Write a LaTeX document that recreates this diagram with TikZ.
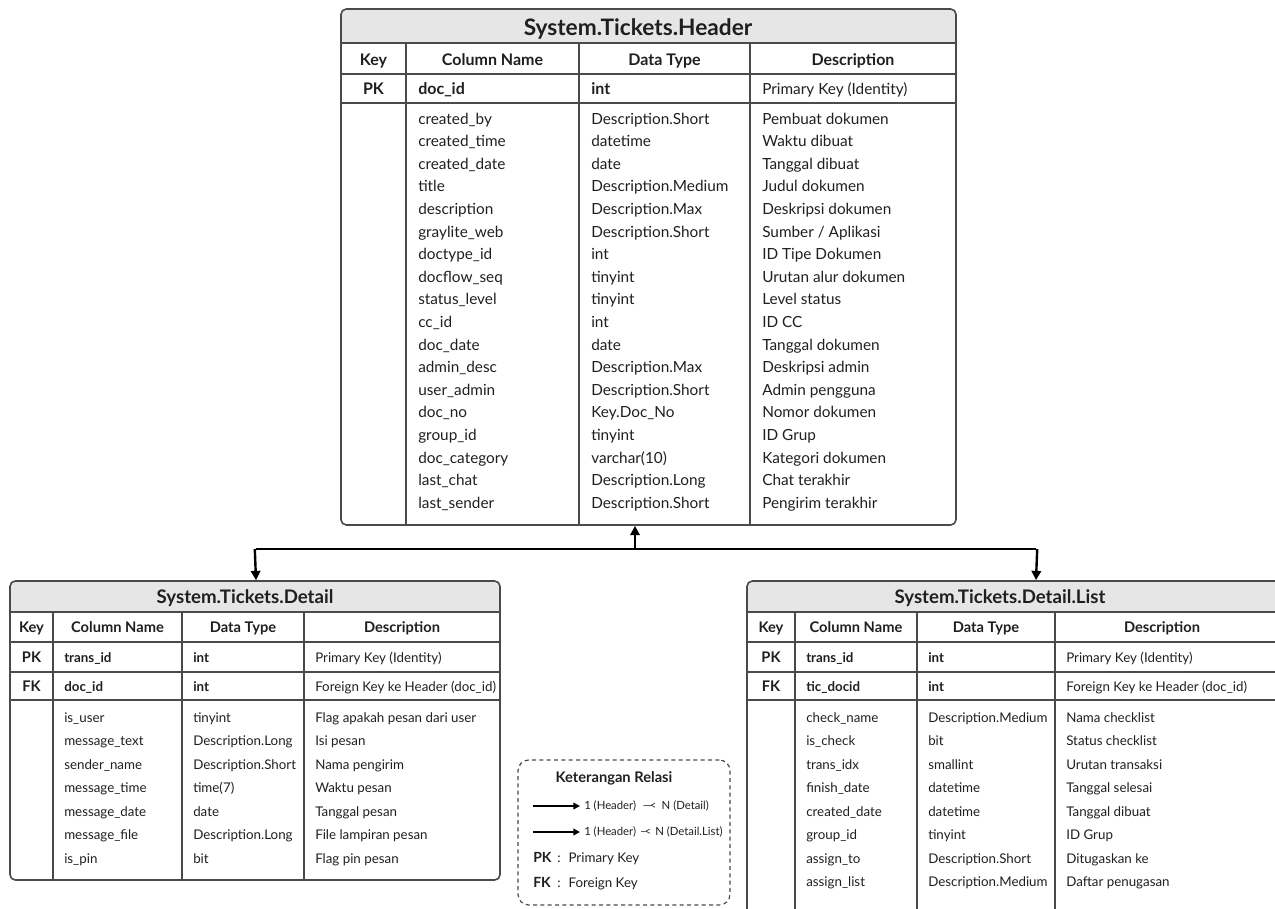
\documentclass[tikz,border=0pt]{standalone}
\usepackage{fontspec}
\setmainfont{Lato}
\usetikzlibrary{arrows.meta}
\usetikzlibrary{fit}
\usetikzlibrary{positioning}
\definecolor{inkgray}{HTML}{1F1F1F}
\definecolor{linegray}{HTML}{4A4A4A}
\definecolor{bandgray}{HTML}{E6E6E6}
\tikzset{
  tblbox/.style={draw=linegray, line width=1.2pt, rounded corners=4pt, inner sep=0pt},
  gridln/.style={linegray, line width=0.8pt},
  bigttl/.style={font=\bfseries\fontsize{17}{20}\selectfont, text=inkgray, inner sep=0pt},
  smallttl/.style={font=\bfseries\fontsize{14}{16}\selectfont, text=inkgray, inner sep=0pt},
  hcell/.style={font=\fontsize{11.5}{13}\selectfont, text=inkgray, inner sep=0pt, text height=1.5ex, text depth=0.45ex},
  hbold/.style={hcell, font=\bfseries\fontsize{12}{14}\selectfont},
  dcell/.style={font=\fontsize{10}{12}\selectfont, text=inkgray, inner sep=0pt, text height=1.5ex, text depth=0.45ex},
  dbold/.style={dcell, font=\bfseries\fontsize{10}{12}\selectfont},
  dhead/.style={dcell, font=\bfseries\fontsize{11}{13}\selectfont},
  rel/.style={draw=black, line width=1.8pt, -{Triangle[length=7pt,width=7pt]}},
  legendbox/.style={draw=linegray, line width=0.9pt, dashed, dash pattern=on 3pt off 2.5pt, rounded corners=8pt}
}
\begin{document}
\begin{tikzpicture}[x=0.75pt, y=-0.75pt]
  \useasboundingbox (0,0) rectangle (1275,908);
  \clip (0,0) rectangle (1275,908);

  % System.Tickets.Header
  \begin{scope} \clip[rounded corners=4pt] (341,9) rectangle (956,525); \fill[bandgray] (341,9) rectangle (956,43); \end{scope}
  \draw[gridln] (341,43) -- (956,43); \draw[gridln] (341,74) -- (956,74); \draw[gridln] (341,103) -- (956,103);
  \foreach \x in {406,579,750} \draw[gridln] (\x,43) -- (\x,525);
  \node[bigttl] (httl) at (638,28.5) {System.Tickets.Header};
  \node[hbold] (hk) at (373.5,61.5) {Key};
  \node[hbold] (hcn) at (492.5,61.5) {Column Name};
  \node[hbold] (hdt) at (664.5,61.5) {Data Type};
  \node[hbold] (hds) at (853,61.5) {Description};
  \node[hbold] (hpk) at (373.5,90.5) {PK};
  \node[hbold, anchor=west] (hpkc) at (418,90.5) {doc\_id};
  \node[hbold, anchor=west] (hpkt) at (591,90.5) {int};
  \node[hcell, anchor=west] (hpkd) at (762,90.5) {Primary Key (Identity)};
  \foreach \cn/\dt/\ds [count=\i from 0] in {
    created\_by/Description.Short/Pembuat dokumen,
    created\_time/datetime/Waktu dibuat,
    created\_date/date/Tanggal dibuat,
    title/Description.Medium/Judul dokumen,
    description/Description.Max/Deskripsi dokumen,
    graylite\_web/Description.Short/Sumber \slash\ Aplikasi,
    doctype\_id/int/ID Tipe Dokumen,
    docflow\_seq/tinyint/Urutan alur dokumen,
    status\_level/tinyint/Level status,
    cc\_id/int/ID CC,
    doc\_date/date/Tanggal dokumen,
    admin\_desc/Description.Max/Deskripsi admin,
    user\_admin/Description.Short/Admin pengguna,
    doc\_no/Key.Doc\_No/Nomor dokumen,
    group\_id/tinyint/ID Grup,
    doc\_category/varchar(10)/Kategori dokumen,
    last\_chat/Description.Long/Chat terakhir,
    last\_sender/Description.Short/Pengirim terakhir}{
    \node[hcell, anchor=west] (hc\i) at (418,{120.5+22.6*\i}) {\cn};
    \node[hcell, anchor=west] (ht\i) at (591,{120.5+22.6*\i}) {\dt};
    \node[hcell, anchor=west] (hd\i) at (762,{120.5+22.6*\i}) {\ds};
  }
  \node[tblbox, fit={(341,9) (956,525)}] (hdr) {};

  % System.Tickets.Detail
  \begin{scope} \clip[rounded corners=4pt] (10,581) rectangle (500,880); \fill[bandgray] (10,581) rectangle (500,612); \end{scope}
  \foreach \y in {612,642,672,700} \draw[gridln] (10,\y) -- (500,\y);
  \foreach \x in {53,182,304} \draw[gridln] (\x,612) -- (\x,880);
  \node[smallttl] (dttl) at (245,598) {System.Tickets.Detail};
  \node[dhead] (dk) at (31.5,629) {Key};
  \node[dhead] (dcn) at (117.5,629) {Column Name};
  \node[dhead] (ddt) at (243,629) {Data Type};
  \node[dhead] (dds) at (402,629) {Description};
  \node[dhead] (dpk) at (31.5,658.5) {PK};
  \node[dbold, anchor=west] (dpkc) at (64,658.5) {trans\_id};
  \node[dbold, anchor=west] (dpkt) at (193,658.5) {int};
  \node[dcell, anchor=west] (dpkd) at (315,658.5) {Primary Key (Identity)};
  \node[dhead] (dfk) at (31.5,687.5) {FK};
  \node[dbold, anchor=west] (dfkc) at (64,687.5) {doc\_id};
  \node[dbold, anchor=west] (dfkt) at (193,687.5) {int};
  \node[dcell, anchor=west] (dfkd) at (315,687.5) {Foreign Key ke Header (doc\_id)};
  \foreach \cn/\dt/\ds [count=\i from 0] in {
    is\_user/tinyint/Flag apakah pesan dari user,
    message\_text/Description.Long/Isi pesan,
    sender\_name/Description.Short/Nama pengirim,
    message\_time/time(7)/Waktu pesan,
    message\_date/date/Tanggal pesan,
    message\_file/Description.Long/File lampiran pesan,
    is\_pin/bit/Flag pin pesan}{
    \node[dcell, anchor=west] (dc\i) at (64,{718.5+23.5*\i}) {\cn};
    \node[dcell, anchor=west] (dt\i) at (193,{718.5+23.5*\i}) {\dt};
    \node[dcell, anchor=west] (dd\i) at (315,{718.5+23.5*\i}) {\ds};
  }
  \node[tblbox, fit={(10,581) (500,880)}] (det) {};

  % System.Tickets.Detail.List
  \begin{scope} \clip[rounded corners=4pt] (747,581) rectangle (1280,915); \fill[bandgray] (747,581) rectangle (1280,612); \end{scope}
  \foreach \y in {612,642,672,700} \draw[gridln] (747,\y) -- (1280,\y);
  \foreach \x in {795,917,1055} \draw[gridln] (\x,612) -- (\x,915);
  \node[smallttl] (lttl) at (1000,598) {System.Tickets.Detail.List};
  \node[dhead] (lk) at (771,629) {Key};
  \node[dhead] (lcn) at (856,629) {Column Name};
  \node[dhead] (ldt) at (986,629) {Data Type};
  \node[dhead] (lds) at (1162,629) {Description};
  \node[dhead] (lpk) at (771,658.5) {PK};
  \node[dbold, anchor=west] (lpkc) at (806,658.5) {trans\_id};
  \node[dbold, anchor=west] (lpkt) at (928,658.5) {int};
  \node[dcell, anchor=west] (lpkd) at (1066,658.5) {Primary Key (Identity)};
  \node[dhead] (lfk) at (771,687.5) {FK};
  \node[dbold, anchor=west] (lfkc) at (806,687.5) {tic\_docid};
  \node[dbold, anchor=west] (lfkt) at (928,687.5) {int};
  \node[dcell, anchor=west] (lfkd) at (1066,687.5) {Foreign Key ke Header (doc\_id)};
  \foreach \cn/\dt/\ds [count=\i from 0] in {
    check\_name/Description.Medium/Nama checklist,
    is\_check/bit/Status checklist,
    trans\_idx/smallint/Urutan transaksi,
    finish\_date/datetime/Tanggal selesai,
    created\_date/datetime/Tanggal dibuat,
    group\_id/tinyint/ID Grup,
    assign\_to/Description.Short/Ditugaskan ke,
    assign\_list/Description.Medium/Daftar penugasan}{
    \node[dcell, anchor=west] (lc\i) at (806,{718.5+23.5*\i}) {\cn};
    \node[dcell, anchor=west] (lt\i) at (928,{718.5+23.5*\i}) {\dt};
    \node[dcell, anchor=west] (ld\i) at (1066,{718.5+23.5*\i}) {\ds};
  }
  \node[tblbox, fit={(747,581) (1280,915)}] (lst) {};

  % relations
  \coordinate (bus) at (635,549);
  \coordinate (busL) at (256,549);
  \coordinate (busR) at (1036,549);
  \draw[rel, -] (busL) -- (busR);
  \draw[rel] (bus) -- (bus |- hdr.south);
  \draw[rel] ([xshift=-0.9pt]busL) -- (busL |- det.north);
  \draw[rel] ([xshift=0.9pt]busR) -- (busR |- lst.north);

  % legend
  \node[legendbox, fit={(518,760) (730,905)}, inner sep=0pt] (lgd) {};
  \node[hbold, font=\bfseries\fontsize{11}{13}\selectfont] (lgttl) at (614,779) {Keterangan Relasi};
  \node[dcell, anchor=west, font=\fontsize{8.5}{10}\selectfont] (lg1) at (584,806) {1 (Header)\hspace{5pt}—\kern-1.5pt<\hspace{4pt}N (Detail)};
  \node[dcell, anchor=west, font=\fontsize{8.5}{10}\selectfont] (lg2) at (584,832) {1 (Header)\hspace{3pt}–\kern-1.5pt<\hspace{3pt}N (Detail.List)};
  \coordinate (lga1) at (533,806);
  \coordinate (lga2) at (533,832);
  \draw[line width=1.1pt, -{Triangle[length=5pt,width=5pt]}] (lga1) -- ([xshift=-3pt]lg1.west);
  \draw[line width=1.1pt, -{Triangle[length=5pt,width=5pt]}] (lga2) -- ([xshift=-3pt]lg2.west);
  \node[hbold, anchor=west, font=\bfseries\fontsize{10.5}{12}\selectfont] (lgpk) at (533,859) {PK};
  \node[hcell, anchor=west, font=\fontsize{10}{12}\selectfont] (lgpkc) at (557,859) {:\hspace{6pt}Primary Key};
  \node[hbold, anchor=west, font=\bfseries\fontsize{10.5}{12}\selectfont] (lgfk) at (533,884) {FK};
  \node[hcell, anchor=west, font=\fontsize{10}{12}\selectfont] (lgfkc) at (557,884) {:\hspace{6pt}Foreign Key};
\end{tikzpicture}
\end{document}
